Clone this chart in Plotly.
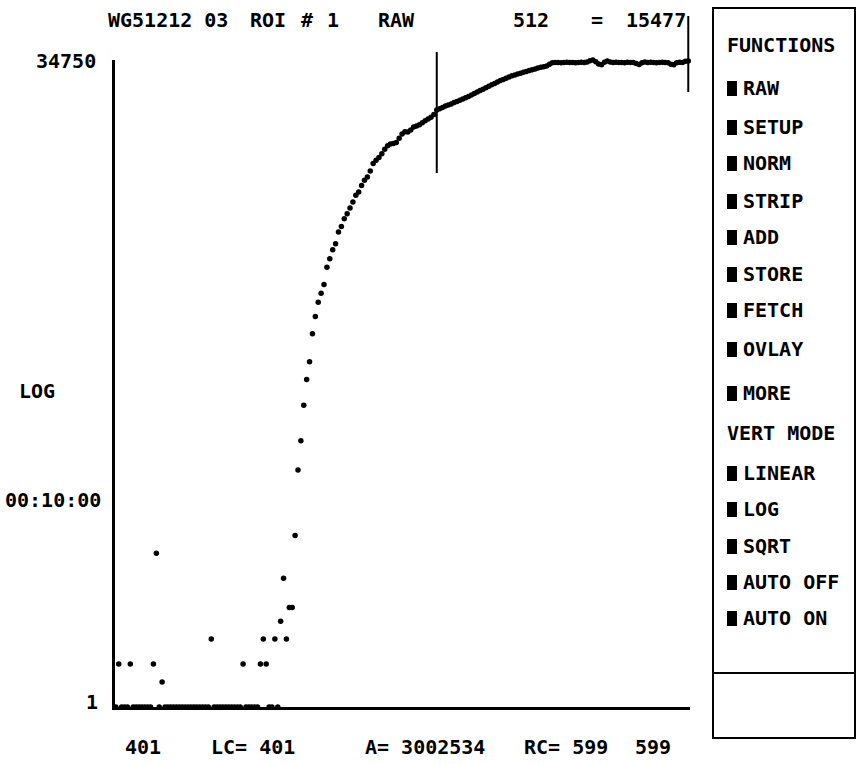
import math
import plotly.graph_objects as go

# ---------------- data ----------------
channel_start = 401
channel_end = 599
channels = list(range(channel_start, channel_end + 1))

counts = [
    # 401-410
    1, 2, 1, 1, 1, 2, 1, 1, 1, 1,
    # 411-420
    1, 1, 1, 2, 12, 1, 1.5, 1, 1, 1,
    # 421-430
    1, 1, 1, 1, 1, 1, 1, 1, 1, 1,
    # 431-440
    1, 1, 1, 3, 1, 1, 1, 1, 1, 1,
    # 441-450
    1, 1, 1, 1, 2, 1, 1, 1, 1, 1,
    # 451-460
    2, 3, 2, 1, 1, 3, 1, 4, 8, 3,
    # 461-470
    5, 5, 16, 46, 74, 131, 199, 265, 416, 550,
    # 471-480
    694, 802, 924, 1222, 1400, 1620, 1785, 2153, 2360, 2673,
    # 481-490
    2897, 3175, 3500, 3900, 4110, 4580, 4970, 5245, 5780, 6520,
    # 491-500
    6870, 7200, 7650, 8200, 8700, 8950, 9000, 9150, 9800, 10500,
    # 501-510
    10900, 10850, 11200, 11750, 11950, 12200, 12600, 13000, 13400, 13800,
    # 511-520
    14400, 15477, 15800, 16150, 16500, 16800, 17100, 17450, 17800, 18150,
    # 521-530
    18500, 18900, 19300, 19700, 20200, 20700, 21200, 21700, 22200, 22700,
    # 531-540
    23300, 23800, 24400, 24900, 25400, 25900, 26400, 26900, 27300, 27700,
    # 541-550
    28100, 28500, 28900, 29300, 29700, 30100, 30500, 30900, 31200, 31600,
    # 551-560
    32500, 33200, 33400, 33400, 33300, 33400, 33500, 33400, 33400, 33300,
    # 561-570
    33400, 33500, 33400, 33600, 34400, 34750, 33800, 32600, 32200, 33500,
    # 571-580
    34200, 33600, 33400, 33500, 33400, 33400, 33300, 33500, 33400, 33400,
    # 581-590
    32800, 32300, 33300, 33600, 33400, 33500, 33400, 33300, 33400, 33500,
    # 591-599
    33400, 33200, 32500, 32200, 33200, 33500, 33400, 34000, 34200,
]

y_max_label = "34750"
y_max = 34750
y_min_label = "1"
left_marker = 512
right_marker = 599

title_items = [("WG51212 03", 168), ("ROI", 268), ("#", 307), ("1", 333),
               ("RAW", 396), ("512", 531), ("=", 597), ("15477", 656)]
bottom_items = [("401", 143), ("LC= 401", 253), ("A= 3002534", 425),
                ("RC= 599", 566), ("599", 653)]
functions_header = "FUNCTIONS"
functions = ["RAW", "SETUP", "NORM", "STRIP", "ADD", "STORE", "FETCH", "OVLAY", "MORE"]
functions_y = [88, 127, 163, 201, 237, 274, 310, 349, 393]
vert_header = "VERT MODE"
vert_modes = ["LINEAR", "LOG", "SQRT", "AUTO OFF", "AUTO ON"]
vert_y = [473, 509, 546, 582, 618]

# ---------------- layout geometry ----------------
W, H = 858, 764
L, R, T, B = 115, 168, 60, 57
PW = W - L - R
PH = H - T - B


def px(x):
    return (x - L) / PW


def py(y):
    return (H - B - y) / PH


FONT = "DejaVu Sans Mono, Liberation Mono, monospace"
FS = 20

fig = go.Figure()
fig.add_trace(go.Scatter(
    x=channels, y=counts, mode="markers",
    marker=dict(size=5.5, color="black"),
    cliponaxis=False, hoverinfo="skip",
))

ann = []


def text(t, x, y, anchor="center", size=FS):
    ann.append(dict(text="<b>" + t + "</b>", x=px(x), y=py(y), xref="paper", yref="paper",
                    xanchor=anchor, yanchor="middle", showarrow=False,
                    font=dict(family=FONT, size=size, color="black")))


for t, x in title_items:
    text(t, x, 20)
for t, x in bottom_items:
    text(t, x, 747)
text(y_max_label, 98, 61, "right")
text(y_min_label, 100, 702, "right")
text("LOG", 37, 391)
text("00:10:00", 53, 500)

shapes = []
# cursor markers
shapes.append(dict(type="line", xref="x", yref="paper", x0=left_marker, x1=left_marker,
                   y0=py(52), y1=py(173), line=dict(color="black", width=2)))
shapes.append(dict(type="line", xref="x", yref="paper", x0=right_marker, x1=right_marker,
                   y0=py(16), y1=py(92), line=dict(color="black", width=2)))
# side panel
shapes.append(dict(type="rect", xref="paper", yref="paper", x0=px(713), x1=px(855),
                   y0=py(738), y1=py(8), line=dict(color="black", width=2)))
shapes.append(dict(type="line", xref="paper", yref="paper", x0=px(713), x1=px(855),
                   y0=py(673), y1=py(673), line=dict(color="black", width=2)))

text(functions_header, 725, 45, "left")
for t, y in zip(functions, functions_y):
    shapes.append(dict(type="rect", xref="paper", yref="paper", x0=px(727), x1=px(737),
                       y0=py(y + 8), y1=py(y - 7), line=dict(width=0), fillcolor="black"))
    text(t, 741, y, "left")
text(vert_header, 725, 433, "left")
for t, y in zip(vert_modes, vert_y):
    shapes.append(dict(type="rect", xref="paper", yref="paper", x0=px(727), x1=px(737),
                       y0=py(y + 8), y1=py(y - 7), line=dict(width=0), fillcolor="black"))
    text(t, 741, y, "left")

fig.update_layout(
    width=W, height=H, margin=dict(l=L, r=R, t=T, b=B),
    paper_bgcolor="white", plot_bgcolor="white", showlegend=False,
    annotations=ann, shapes=shapes,
    xaxis=dict(range=[400.7, 599.6], showgrid=False, zeroline=False, showline=True,
               linecolor="black", linewidth=3, showticklabels=False, ticks=""),
    yaxis=dict(type="log", range=[0, math.log10(y_max)], showgrid=False, zeroline=False,
               showline=True, linecolor="black", linewidth=3, showticklabels=False, ticks=""),
)

fig.write_html("out.html", config={"displayModeBar": False})
